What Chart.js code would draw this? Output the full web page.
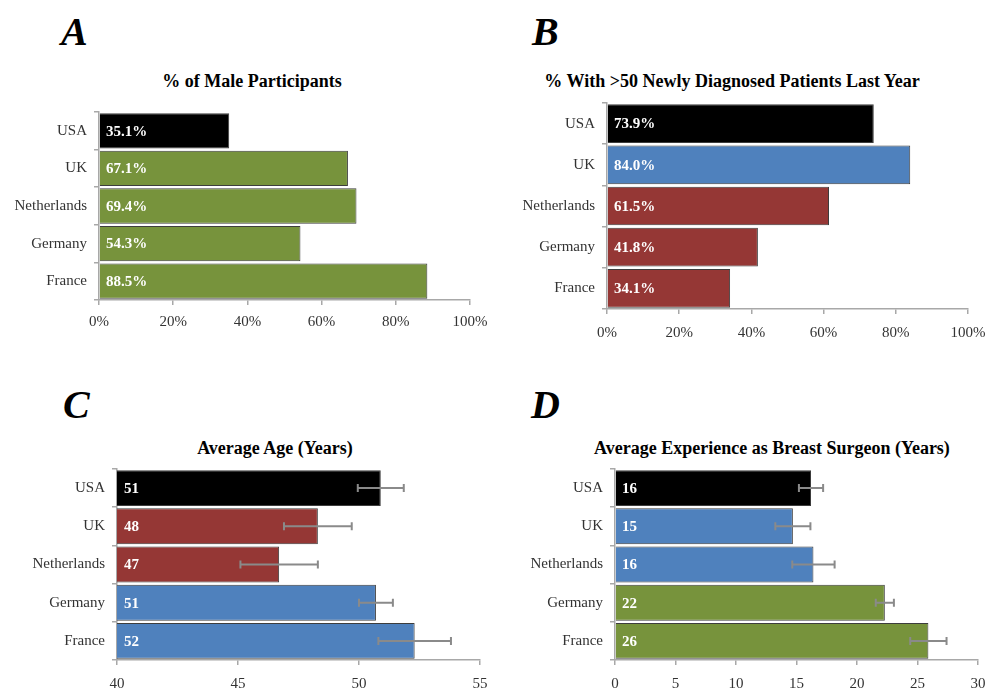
<!DOCTYPE html>
<html>
<head>
<meta charset="utf-8">
<script src="https://cdn.jsdelivr.net/npm/chart.js@4"></script>
<style>
  html, body { margin: 0; padding: 0; background: #fff; }
  body { width: 988px; height: 692px; position: relative; overflow: hidden; font-family: "Liberation Serif", serif; }
  .panel-letter { position: absolute; font-weight: bold; font-style: italic; font-size: 40px; line-height: 40px; color: #000; }
  .panel-title { position: absolute; width: 460px; text-align: center; font-weight: bold; font-size: 18px; line-height: 18px; color: #000; white-space: nowrap; }
  canvas { position: absolute; }
</style>
</head>
<body>
<div class="panel-letter" style="left:61px;top:12px">A</div>
<div class="panel-letter" style="left:532px;top:12px">B</div>
<div class="panel-letter" style="left:63px;top:385px">C</div>
<div class="panel-letter" style="left:531px;top:385px">D</div>

<div class="panel-title" style="left:22px;top:72px">% of Male Participants</div>
<div class="panel-title" style="left:502px;top:72px">% With &gt;50 Newly Diagnosed Patients Last Year</div>
<div class="panel-title" style="left:45px;top:439px">Average Age (Years)</div>
<div class="panel-title" style="left:542px;top:439px">Average Experience as Breast Surgeon (Years)</div>

<canvas id="chartA" width="495" height="245" style="left:0;top:100px"></canvas>
<canvas id="chartB" width="494" height="255" style="left:494px;top:90px"></canvas>
<canvas id="chartC" width="495" height="237" style="left:0;top:455px"></canvas>
<canvas id="chartD" width="494" height="237" style="left:494px;top:455px"></canvas>

<script>
// Survey results by country
const countries = ['USA', 'UK', 'Netherlands', 'Germany', 'France'];

const maleShare = [35.1, 67.1, 69.4, 54.3, 88.5];
const highVolumeShare = [73.9, 84.0, 61.5, 41.8, 34.1];

const averageAge = [50.9, 48.3, 46.7, 50.7, 52.3];
const ageSpread = [0.95, 1.4, 1.6, 0.7, 1.5];

const experienceYears = [16.2, 14.7, 16.4, 22.3, 25.9];
const experienceSpread = [1.0, 1.45, 1.75, 0.75, 1.5];

// Axis tick values
const percentTicks = [0, 20, 40, 60, 80, 100];
const ageTicks = [40, 45, 50, 55];
const experienceTicks = [0, 5, 10, 15, 20, 25, 30];

// Bar colours per country
const BLACK = '#000000', GREEN = '#77933C', BLUE = '#4F81BD', RED = '#953735';
const maleColors = [BLACK, GREEN, GREEN, GREEN, GREEN];
const volumeColors = [BLACK, BLUE, RED, RED, RED];
const ageColors = [BLACK, RED, RED, BLUE, BLUE];
const experienceColors = [BLACK, BLUE, BLUE, GREEN, GREEN];

const FONT = 'Liberation Serif';
const AXIS_GRAY = '#a8a8a8';

// Draws error whiskers and the white value label inside each bar
const barAnnotations = {
  id: 'barAnnotations',
  afterDatasetsDraw(chart, args, opts) {
    const ctx = chart.ctx;
    const meta = chart.getDatasetMeta(0);
    const xScale = chart.scales.x;
    const values = chart.data.datasets[0].data;
    ctx.save();
    if (opts.errors) {
      ctx.strokeStyle = '#8a8a8a';
      ctx.lineWidth = 2;
      meta.data.forEach((bar, i) => {
        const x0 = xScale.getPixelForValue(values[i] - opts.errors[i]);
        const x1 = xScale.getPixelForValue(values[i] + opts.errors[i]);
        const y = bar.y;
        ctx.beginPath();
        ctx.moveTo(x0, y); ctx.lineTo(x1, y);
        ctx.moveTo(x0, y - 4); ctx.lineTo(x0, y + 4);
        ctx.moveTo(x1, y - 4); ctx.lineTo(x1, y + 4);
        ctx.stroke();
      });
    }
    ctx.fillStyle = '#ffffff';
    ctx.font = 'bold 15px "' + FONT + '"';
    ctx.textAlign = 'left';
    ctx.textBaseline = 'middle';
    meta.data.forEach((bar, i) => {
      ctx.fillText(opts.format(values[i]), chart.chartArea.left + 7, bar.y + 1);
    });
    ctx.restore();
  }
};

function buildChart(id, values, colors, ticks, o) {
  return new Chart(document.getElementById(id), {
    type: 'bar',
    data: {
      labels: countries,
      datasets: [{
        data: values,
        backgroundColor: colors,
        borderColor: '#3d3d3d',
        borderWidth: 1,
        barPercentage: 0.94,
        categoryPercentage: 1
      }]
    },
    options: {
      indexAxis: 'y',
      responsive: false,
      animation: false,
      layout: { padding: { top: o.padTop, right: o.padRight, left: 0, bottom: 0 } },
      plugins: {
        legend: { display: false },
        tooltip: { enabled: false },
        barAnnotations: { errors: o.errors, format: o.format }
      },
      scales: {
        x: {
          min: ticks[0],
          max: ticks[ticks.length - 1],
          ticks: {
            stepSize: ticks[1] - ticks[0],
            callback: o.tickFormat,
            color: '#333',
            font: { family: FONT, size: 15 },
            padding: o.xPad,
            maxRotation: 0,
            autoSkip: false
          },
          grid: { drawOnChartArea: false, tickLength: 5, color: AXIS_GRAY, lineWidth: 1.5 },
          border: { color: AXIS_GRAY, width: 1.5 },
          afterFit: (s) => { s.height = o.xHeight; s.paddingLeft = 0; s.paddingRight = 0; }
        },
        y: {
          ticks: { color: '#333', font: { family: FONT, size: 15 }, padding: 7 },
          grid: { drawOnChartArea: false, tickLength: 5, color: AXIS_GRAY, lineWidth: 1.5, offset: true },
          border: { color: AXIS_GRAY, width: 1.5 },
          afterFit: (s) => { s.width = o.yWidth; s.paddingTop = 0; s.paddingBottom = 0; }
        }
      }
    },
    plugins: [barAnnotations]
  });
}

const pct = (v) => v + '%';
const pctLabel = (v) => v.toFixed(1) + '%';
const roundLabel = (v) => String(Math.round(v));

buildChart('chartA', maleShare, maleColors, percentTicks,
  { padTop: 12, padRight: 25, yWidth: 99, xHeight: 45, xPad: 8, tickFormat: pct, format: pctLabel });
buildChart('chartB', highVolumeShare, volumeColors, percentTicks,
  { padTop: 13, padRight: 20, yWidth: 113, xHeight: 36, xPad: 10, tickFormat: pct, format: pctLabel });
buildChart('chartC', averageAge, ageColors, ageTicks,
  { padTop: 14, padRight: 15, yWidth: 117, xHeight: 32, xPad: 10, tickFormat: (v) => v, format: roundLabel, errors: ageSpread });
buildChart('chartD', experienceYears, experienceColors, experienceTicks,
  { padTop: 14, padRight: 10, yWidth: 121, xHeight: 32, xPad: 10, tickFormat: (v) => v, format: roundLabel, errors: experienceSpread });
</script>
</body>
</html>
